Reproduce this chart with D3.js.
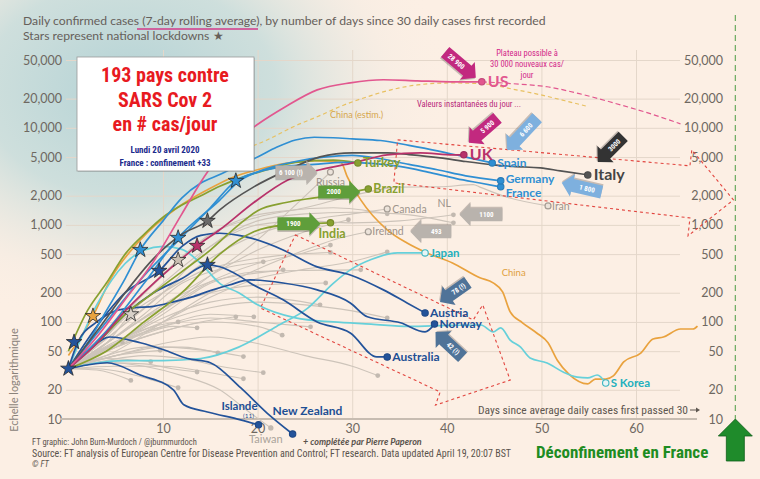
<!DOCTYPE html>
<html><head><meta charset="utf-8">
<script src="https://cdn.jsdelivr.net/npm/d3@7"></script>
<style>body{margin:0;background:#fcefe4}svg{display:block}</style>
</head><body><svg id="c" width="760" height="479"></svg>
<script>
// ---------- DATA (day since 30 cases, daily cases 7-day avg) ----------
const yTicks=[10,20,50,100,200,500,1000,2000,5000,10000,20000,50000];
const xTicks=[10,20,30,40,50,60];

const US=[[0,33],[3,70],[6,170],[9,420],[12,1300],[14.7,3500],[17,6500],[19.9,10700],[22.9,16400],[26.3,24600],[29.8,29100],[33.3,31300],[36.9,30500],[40.4,29800],[43.7,29800]];
const usProjection=[[43.7,29800],[47,28500],[50.6,26500],[54,22500],[57.6,18100],[61,14500],[64.7,11000]];
const chinaEstim=[[15,3700],[18,5600],[21,7500],[24,10500],[26.3,13000],[29,17000],[31.6,20900],[34,24500],[36.9,27700],[40.4,29000],[43.9,28400],[47,25000],[49.9,21900],[52.5,19000],[54.9,16600]];
const UK=[[0,33],[3,60],[6,130],[9,250],[12,450],[13.6,608],[16,890],[19.6,1700],[23.2,2900],[26.6,3700],[30.1,4350],[33.7,5270],[37.2,5520],[40.7,5270],[41.8,5270]];
const Spain=[[0,33],[2,60],[4,130],[6,280],[7.6,552],[10,1100],[12,1900],[14,2700],[16,3300],[18,4100],[20,5000],[22,6300],[24,7500],[26,8000],[28,7900],[30,7700],[33,7400],[36,6600],[39,5800],[42,5000],[44.8,4350]];
const Italy=[[0,33],[3,80],[6,200],[9,450],[12,800],[14.7,1100],[16,1430],[19.6,2465],[23.2,3690],[26.6,5020],[30,5520],[33.7,5520],[36,5300],[39.3,4910],[42,4500],[44.9,4160],[47,4000],[49.9,3870],[52,3600],[54.9,3275]];
const Germany=[[0,33],[4,80],[8,250],[11.6,735],[16,1800],[18,2800],[21,3800],[24,4500],[27,5000],[30,5200],[33,4800],[36,4200],[39,3700],[42,3200],[45.7,2845]];
const France=[[0,33],[4,100],[8,300],[12,750],[15,1500],[17.7,2840],[20,3500],[23,4000],[26,4200],[29,4400],[32,4300],[35,4000],[38,3500],[41,3000],[43.5,2700],[45.7,2465]];
const Turkey=[[0,50],[2,130],[4,250],[6,500],[8,800],[10,1200],[12,1600],[14,2000],[16,2500],[18,3000],[21,3700],[24,4400],[28,4650],[30.6,4350]];
const Brazil=[[0,33],[3,60],[6,120],[9,200],[12,330],[15,550],[18,1000],[20,1400],[23,1700],[26,1900],[29,2100],[31.7,2350]];
const India=[[0,33],[4,50],[8,100],[12,200],[16,500],[19.6,850],[23,1000],[27.7,1050]];
const China=[[0,45],[2.6,115],[4.4,270],[7.6,700],[11.5,1500],[14.7,2300],[17.4,3100],[20,3700],[23,4300],[26,4600],[28.8,4400],[29.5,3100],[30.9,1810],[33.7,890],[35.8,650],[37.9,514],[40.6,405],[43.5,285],[44.9,253],[45.9,204],[46.7,127],[48,98],[49.5,77],[50.7,61],[51.7,40],[52.9,29],[54.9,23],[55.7,25.8],[56.8,25.8],[57.6,27.8],[58.7,38.7],[60.5,47.8],[61.8,66.8],[62.9,70],[64.7,84.6],[66,84.6],[66.5,90.8]];
const Japan=[[0,33],[3,38],[6,40],[10,40],[14,42],[18,55],[22,90],[25.3,139],[28,250],[29.8,344],[32,440],[34.8,514],[37.7,514]];
const SKorea=[[0,33],[3,150],[6,400],[8,550],[10,600],[12,560],[14,400],[16,250],[18,200],[20,150],[24,110],[28,100],[32,95],[36,90],[40,92],[43.6,93],[44.9,79],[45.7,87],[46.7,65],[47.8,55],[48.8,42.5],[50.6,37.8],[52.3,30.5],[53.8,27],[54.9,26.5],[55.9,28.4],[56.8,23.5]];
const Austria=[[0,33],[3,90],[6,200],[9.6,336],[12,600],[14,780],[16,820],[18,780],[19.2,735],[22.7,552],[26.3,369],[29.8,305],[33.3,214],[35.8,157],[37.7,124]];
const Norway=[[0,33],[1,62],[3,100],[5,130],[7,140],[9,145],[11,160],[13,180],[15,210],[17,240],[19.2,271],[22.7,252],[26.3,214],[29.8,157],[31.6,113],[35.1,98],[37.7,79],[38.7,95]];
const Australia=[[0,33],[3,60],[6,120],[9,200],[12,280],[14.7,387],[16,370],[18,300],[19.2,252],[22.7,169],[26.3,100],[29.8,77],[32.6,43.6],[33.7,43.6]];
const Iceland=[[0,33],[2,36],[4.1,38],[7.6,28.4],[11.1,20],[12.2,14],[14.7,11.8],[18.2,9.8],[20.1,8.7]];
const NewZealand=[[0,33],[2,50],[4.4,70],[7.6,61],[10,52],[12.6,42],[15,38],[18.2,21],[21,11.5],[23.7,7]];
const Russia=[[0,33],[5,60],[10,130],[15,300],[20,700],[24,1600],[27.7,3500]];
const Canada=[[0,33],[5,80],[10,200],[15,450],[20,800],[25,1100],[30,1300],[33.7,1460]];
const NL=[[0,33],[5,90],[10,250],[15,600],[20,1000],[25,1100],[30,1050],[35,1100],[40.7,1270]];
const Ireland=[[0,33],[5,50],[10,100],[15,200],[20,350],[25,550],[28,700],[31.7,850]];
const Iran=[[0,33],[5,100],[10,300],[15,800],[20,1200],[25,1500],[30,2000],[35,2450],[39.3,2470],[42.8,2600],[43.5,2450],[46.2,1950],[50.7,1570]];
const Taiwan=[[0,33],[4,38],[8,35],[12,28],[16,20],[19,12],[21.4,8.1]];
const otherCountries=[
 [[0,33],[5,80],[10,200],[15,600],[20,1100],[25,1300],[30,1350],[35,1300],[40.7,1050]],
 [[0,33],[5,70],[10,150],[15,300],[20,550],[25,850],[29.6,1130]],
 [[0,33],[5,60],[10,130],[15,260],[20,400],[25,520],[27.7,620]],
 [[0,33],[5,55],[10,100],[15,180],[20,280],[25,350],[30,420],[33.7,527]],
 [[0,33],[5,60],[10,120],[15,250],[20,330],[25,340],[30.9,344]],
 [[0,33],[4,60],[8,120],[12,250],[16,350],[20.6,416]],
 [[0,33],[5,70],[10,150],[15,260],[20,320],[22.7,344]],
 [[0,33],[5,60],[10,110],[15,160],[20,180],[26.6,150]],
 [[0,33],[5,55],[10,80],[15,100],[20,90],[22.6,73]],
 [[0,33],[5,60],[10,90],[15,110],[20,100],[25.6,89]],
 [[0,33],[5,60],[10,100],[15,140],[20,160],[25,150],[30,130],[33.7,110]],
 [[0,33],[4,40],[8,45],[12,42],[16,35],[20.6,30]],
 [[0,33],[5,45],[10,60],[15,70],[20,60],[25,45],[30,35],[32.7,28]],
 [[0,33],[5,70],[10,140],[15,200],[20,240],[27.2,252]],
 [[0,33],[3,50],[6,70],[9,90],[11.6,100]],
 [[0,33],[4,55],[8,75],[11,90],[13.6,87]],
 [[0,33],[5,55],[10,80],[14,100],[17.7,113]],
 [[0,33],[5,60],[10,90],[15,120],[19.6,113]],
 [[0,33],[4,45],[8,55],[12,55],[15.8,48]],
 [[0,33],[5,45],[10,55],[15,50],[18.5,44]],
 [[0,33],[4,38],[8,37],[11,33],[13.6,30.5]],
 [[0,33],[5,35],[10,35],[15,30],[18.5,26]],
 [[0,33],[3,33],[6,30],[9,25],[11.6,21]],
 [[0,33],[3,32],[6.6,25]],
 [[0,33],[3,45],[5.7,62]],
 [[0,33],[4,42],[8.7,39]],
 [[0,33],[5,45],[9.7,51]],
 [[0,33],[4,60],[6.6,120],[10,200],[14,330],[18,420],[22,480],[27.7,520]],
 [[0,33],[4,70],[8,200],[11.6,435],[15,800],[19,1200],[23,1400],[28,1500],[33.7,1300]]
];
// lockdown stars: [day, cases, group]
const lockdownStars=[[0,33,'navy'],[0.6,62,'navy'],[2.6,115,'orange'],[6.6,120,'grey'],[7.6,552,'blue'],[9.6,336,'navy'],[11.6,735,'blue'],[11.6,435,'beige'],[13.6,608,'crimson'],[14.7,1100,'dark'],[14.7,387,'navy'],[17.7,2840,'blue']];
// red dashed hand-drawn arrows (day, cases)
const redArrowA=[[34.8,7520],[65.7,4060],[65.9,5930],[70.3,1810],[65.5,771],[65.7,1180],[34.4,2710]];
const redArrowB=[[24,789],[42.8,105],[43.8,150],[46.7,25.2],[38.8,13.9],[39.3,19],[20.3,139]];
const deconfinementDay=70.5;

// ---------- SETUP ----------
const W=760,H=479;
const x=d3.scaleLinear().domain([0,66.5]).range([68.4,697.5]);
const y=d3.scaleLog().domain([10,50000]).range([419,60]);
const svg=d3.select('#c');
const NARROW="'Liberation Sans Narrow','Arial Narrow','Roboto Condensed',sans-serif";
const SANS="Lato,'Open Sans',sans-serif";
const last=a=>a[a.length-1];
const col={navy:'#23539a',blue:'#2f8fd3',pink:'#e2578f',crimson:'#b8326a',dark:'#545454',olive:'#88a030',orange:'#e9a23e',teal:'#66d0da',grey:'#cdc4ba'};

const defs=svg.append('defs');
const rg=defs.append('radialGradient').attr('id','haze').attr('gradientUnits','userSpaceOnUse')
 .attr('cx',130).attr('cy',90).attr('r',240).attr('gradientTransform','translate(130,90) scale(1.35,1) translate(-130,-90)');
[[0,'#b3d2d5',1],[0.45,'#c6dcdb',0.85],[0.8,'#f2ebe2',0.4],[1,'#fcefe4',0]].forEach(s=>rg.append('stop').attr('offset',s[0]).attr('stop-color',s[1]).attr('stop-opacity',s[2]));
svg.append('rect').attr('width',W).attr('height',H).attr('fill','#fcefe4');
svg.append('rect').attr('width',W).attr('height',H).attr('fill','url(#haze)');

// grid
svg.append('g').attr('transform','translate(66,0)')
 .call(d3.axisLeft(y).tickValues(yTicks).tickSize(-614).tickFormat(''))
 .call(g=>{g.select('.domain').remove();g.selectAll('line').attr('stroke','#e4d7ca');});
svg.append('g').attr('transform','translate(0,50)')
 .call(d3.axisBottom(x).tickValues(xTicks).tickSize(369).tickFormat(''))
 .call(g=>{g.select('.domain').remove();g.selectAll('line').attr('stroke','#e4d7ca');});

// axes labels
svg.append('g').attr('transform','translate(62,0)')
 .call(d3.axisLeft(y).tickValues(yTicks).tickSize(0).tickPadding(0).tickFormat(d3.format(',')))
 .call(g=>{g.select('.domain').remove();g.selectAll('text').attr('font-family',SANS).attr('font-size',12.5).attr('fill','#6e6861');});
svg.append('g').attr('transform','translate(723,0)')
 .call(d3.axisRight(y).tickValues(yTicks).tickSize(0).tickPadding(0).tickFormat(d3.format(',')))
 .call(g=>{g.select('.domain').remove();g.selectAll('text').attr('text-anchor','end').attr('x',0).attr('font-family',SANS).attr('font-size',12.5).attr('fill','#6e6861');});
svg.append('g').attr('transform',`translate(0,${y(10)})`)
 .call(d3.axisBottom(x).tickValues(xTicks).tickSize(0).tickPadding(5))
 .call(g=>{g.select('.domain').remove();g.selectAll('text').attr('font-family',SANS).attr('font-size',12.5).attr('fill','#6e6861');});
svg.append('line').attr('x1',60).attr('x2',697).attr('y1',y(10)).attr('y2',y(10)).attr('stroke','#c7bcb1').attr('stroke-width',2);

const line=d3.line().x(d=>x(d[0])).y(d=>y(d[1])).curve(d3.curveMonotoneX);
const plot=svg.append('g');

// grey lines
const greySeries=[Russia,Canada,NL,Ireland,Iran,Taiwan,...otherCountries];
greySeries.forEach(s=>{
 plot.append('path').attr('d',line(s)).attr('fill','none').attr('stroke',col.grey).attr('stroke-width',1.1);
});
greySeries.forEach(s=>{
 const e=last(s);
 const ring=[Russia,Canada,Ireland,Iran].includes(s);
 plot.append('circle').attr('cx',x(e[0])).attr('cy',y(e[1])).attr('r',ring?3:2.4)
  .attr('fill',ring?'#ece3da':'#c2b9b0').attr('stroke',ring?'#a59d95':'none').attr('stroke-width',1.2);
});

// projections
plot.append('path').attr('d',line(chinaEstim)).attr('fill','none').attr('stroke','#e8c060').attr('stroke-width',1.2).attr('stroke-dasharray','4,3');
plot.append('path').attr('d',line(usProjection)).attr('fill','none').attr('stroke','#e2578f').attr('stroke-width',1.2).attr('stroke-dasharray','5,3');

const main=[
 {n:'China',d:China,c:col.orange},{n:'SKorea',d:SKorea,c:col.teal},{n:'Japan',d:Japan,c:col.teal},
 {n:'Iceland',d:Iceland,c:col.navy},{n:'NZ',d:NewZealand,c:col.navy},{n:'Australia',d:Australia,c:col.navy},
 {n:'Norway',d:Norway,c:col.navy},{n:'Austria',d:Austria,c:col.navy},
 {n:'India',d:India,c:col.olive},{n:'Brazil',d:Brazil,c:col.olive},{n:'Turkey',d:Turkey,c:col.olive},
 {n:'France',d:France,c:col.blue},{n:'Germany',d:Germany,c:col.blue},{n:'Spain',d:Spain,c:col.blue},
 {n:'Italy',d:Italy,c:col.dark},{n:'UK',d:UK,c:col.crimson},{n:'US',d:US,c:col.pink}
];
main.forEach(s=>plot.append('path').attr('d',line(s.d)).attr('fill','none').attr('stroke',s.c).attr('stroke-width',1.7).attr('stroke-linejoin','round'));

// red dashed arrows
const poly=d3.line().x(d=>x(d[0])).y(d=>y(d[1]));
[redArrowA,redArrowB].forEach(a=>plot.append('path').attr('d',poly(a)+'Z').attr('fill','none').attr('stroke','#e2453f').attr('stroke-width',1.1).attr('stroke-dasharray','3,3'));

// end dots
const ringSet=['Japan','SKorea'];
main.filter(s=>s.n!=='China').forEach(s=>{
 const e=last(s.d);
 const ring=ringSet.includes(s.n);
 plot.append('circle').attr('cx',x(e[0])).attr('cy',y(e[1])).attr('r',3.2)
  .attr('fill',ring?'#e7f5f5':s.c).attr('stroke',ring?'#3cb6c2':d3.color(s.c).darker(0.4)).attr('stroke-width',1.1);
});
plot.append('circle').attr('cx',x(last(Taiwan)[0])).attr('cy',y(last(Taiwan)[1])).attr('r',2.6).attr('fill','#c2b9b0');

// labels
function lab(pt,text,o){
 const t=svg.append('text').attr('x',x(pt[0])+(o.dx||0)).attr('y',y(pt[1])+(o.dy||0)).attr('dy','0.35em')
  .attr('font-family',o.ff||SANS).attr('font-weight',o.fw||'bold').attr('font-size',o.fs||12)
  .attr('fill',o.c).attr('text-anchor',o.a||'start').text(text);
 return t;
}
lab(last(US),'US',{dx:6,fs:16,c:'#e2578f'});
lab(last(UK),'UK',{dx:6,fs:16,c:'#b8326a'});
lab(last(Spain),'Spain',{dx:5,fs:12,c:'#2f8fd3'});
lab(last(Italy),'Italy',{dx:6,fs:16,c:'#444'});
lab(last(Germany),'Germany',{dx:5,dy:-2,fs:12,c:'#2f8fd3'});
lab(last(France),'France',{dx:5,dy:5.5,fs:12,c:'#2f8fd3'});
lab(last(Turkey),'Turkey',{dx:5,fs:12.5,c:'#88a030'});
lab(last(Brazil),'Brazil',{dx:5,fs:12.5,c:'#88a030'});
lab(last(India),'India',{dx:-12,dy:11,fs:12.5,c:'#88a030'});
lab(last(Russia),'Russia',{dx:0,dy:10,fs:10.5,c:'#9c948c',fw:'normal',a:'middle'});
lab(last(Canada),'Canada',{dx:5,fs:10.5,c:'#9c948c',fw:'normal'});
lab(last(NL),'NL',{dx:-16,dy:-11,fs:10.5,c:'#9c948c',fw:'normal'});
lab(last(Ireland),'Ireland',{dx:4,fs:10.5,c:'#9c948c',fw:'normal'});
lab(last(Iran),'Iran',{dx:4,fs:10.5,c:'#9c948c',fw:'normal'});
lab(last(Japan),'Japan',{dx:5,fs:11.5,c:'#22b0bd'});
lab(last(SKorea),'S Korea',{dx:5,fs:11.5,c:'#22b0bd'});
lab(last(Austria),'Austria',{dx:5,fs:12,c:'#1e4f95'});
lab(last(Norway),'Norway',{dx:5,fs:12,c:'#1e4f95'});
lab(last(Australia),'Australia',{dx:5,fs:12,c:'#1e4f95'});
lab(last(NewZealand),'New Zealand',{dx:-20,dy:-23,fs:12,c:'#1e4f95'});
lab(last(Iceland),'Islande',{dx:-1,dy:-19,fs:11.5,c:'#1e4f95',a:'end'});
lab(last(Iceland),'(11)',{dx:-10,dy:-9,fs:6.5,c:'#1e4f95',a:'middle',fw:'normal'});
lab(last(Taiwan),'Taiwan',{dx:-5,dy:11,fs:11,c:'#aaa39b',fw:'normal',a:'middle'});
lab([45.8,320],'China',{fs:9.5,c:'#e0a040',fw:'normal'});
lab([27.65,13600],'China (estim.)',{fs:9,c:'#d6a64c',fw:'normal'});

// stars
const starCol={navy:'#23539a',blue:'#2f8fd3',orange:'#e9a23e',grey:'#d8d0c8',beige:'#cbbfb2',crimson:'#b8326a',dark:'#6a6a6a'};
lockdownStars.forEach(s=>svg.append('path').attr('d',d3.symbol(d3.symbolStar).size(75)())
 .attr('transform',`translate(${x(s[0])},${y(s[1])})`).attr('fill',starCol[s[2]]).attr('stroke','#2a2a2a').attr('stroke-width',0.8));

// block arrows
const ends={US,UK,Spain,Italy,France,NL,Ireland,Russia,Brazil,India,Austria,Norway};
const arrows=[
 {to:'US',dx:-6,dy:-4,ang:40,len:40,c:'#c2297f',t:'28 900'},
 {to:'UK',dx:5,dy:-12,ang:139,len:38,c:'#c2297f',t:'5 900'},
 {to:'Spain',dx:15,dy:-13,ang:133,len:44,c:'#7eb0de',t:'6 600'},
 {to:'Italy',dx:10,dy:-13,ang:135,len:36,c:'#333333',t:'3000'},
 {to:'France',dx:61,dy:-4,ang:193,len:41,c:'#7eb0de',t:'1 800'},
 {to:'NL',dx:6,dy:0,ang:180,len:43,c:'#b9b3ad',t:'1100'},
 {to:'Ireland',dx:42,dy:0,ang:180,len:41,c:'#b9b3ad',t:'493'},
 {to:'Russia',dx:-13,dy:0,ang:0,len:42,c:'#b9b3ad',t:'6 100 (!)'},
 {to:'Brazil',dx:-8,dy:3,ang:0,len:42,c:'#5f9e3b',t:'2000'},
 {to:'India',dx:-10,dy:1,ang:0,len:43,c:'#5f9e3b',t:'1900'},
 {to:'Austria',dx:15,dy:-11,ang:145,len:34,c:'#4f7398',t:'78 (!)'},
 {to:'Norway',dx:1,dy:8,ang:223,len:37,c:'#4f7398',t:'42 (!)'}
];
const ann=svg.append('g');
arrows.forEach(a=>{
 const e=last(ends[a.to]);
 const tx=x(e[0])+a.dx, ty=y(e[1])+a.dy;
 const g=ann.append('g').attr('transform',`translate(${tx},${ty}) rotate(${a.ang})`);
 const hl=11,hw=11.5,bw=6.5,L=a.len;
 const pts=[[0,0],[-hl,-hw],[-hl,-bw],[-L,-bw],[-L,bw],[-hl,bw],[-hl,hw]];
 g.append('polygon').attr('points',pts.map(p=>[p[0],p[1]+1.6].join(',')).join(' ')).attr('fill','rgba(40,30,30,0.25)');
 g.append('polygon').attr('points',pts.join(' ')).attr('fill',a.c);
 const cx=-(L+hl)/2;
 const flip=Math.cos(a.ang*Math.PI/180)<0;
 g.append('text').attr('x',cx).attr('y',0).attr('dy','0.35em').attr('text-anchor','middle')
  .attr('transform',flip?`rotate(180 ${cx} 0)`:null)
  .attr('font-family',NARROW).attr('font-weight','bold').attr('font-size',7).attr('fill','#fff').text(a.t);
});

// deconfinement marker
const xd=x(deconfinementDay);
svg.append('line').attr('x1',xd).attr('x2',xd).attr('y1',15).attr('y2',y(10)).attr('stroke','#6aaa5e').attr('stroke-width',1.2).attr('stroke-dasharray','6,4');
svg.append('polygon').attr('points',[[xd,y(10)],[xd+17,y(10)+17],[xd+9,y(10)+17],[xd+9,y(10)+42],[xd-9,y(10)+42],[xd-9,y(10)+17],[xd-17,y(10)+17]].join(' '))
 .attr('fill','#1f8b2b').attr('stroke','#0e5e18').attr('stroke-width',0.8);
svg.append('text').attr('x',xd-27).attr('y',452).attr('dy','0.35em').attr('text-anchor','end')
 .attr('font-family',NARROW).attr('font-weight','bold').attr('font-size',17).attr('fill','#1e8c22').text('Déconfinement en France');

// x axis caption
svg.append('text').attr('x',688).attr('y',410).attr('dy','0.35em').attr('text-anchor','end')
 .attr('font-family',NARROW).attr('font-size',11.5).attr('fill','#5e5750').text('Days since average daily cases first passed 30');
svg.append('line').attr('x1',690).attr('x2',698).attr('y1',410).attr('y2',410).attr('stroke','#5e5750');
svg.append('path').attr('d','M696,407.5 L700,410 L696,412.5Z').attr('fill','#5e5750');

// y axis caption
svg.append('text').attr('transform','translate(18,380) rotate(-90)').attr('text-anchor','middle')
 .attr('font-family',SANS).attr('font-size',11).attr('fill','#8a827a').text('Echelle logarithmique');

// magenta notes
[['Plateau possible à',53],['30 000 nouveaux cas/',64],['jour',75]].forEach(r=>
 svg.append('text').attr('x',527).attr('y',r[1]).attr('dy','0.35em').attr('text-anchor','middle')
 .attr('font-family',NARROW).attr('font-size',8.5).attr('fill','#d2288a').text(r[0]));
svg.append('text').attr('x',469).attr('y',104).attr('dy','0.35em').attr('text-anchor','middle')
 .attr('font-family',NARROW).attr('font-size',8.5).attr('fill','#b8287a').text('Valeurs instantanées du jour ...');

// header
svg.append('text').attr('x',23).attr('y',25).attr('font-family',SANS).attr('font-size',12.2).attr('fill','#66605a')
 .text('Daily confirmed cases (7-day rolling average), by number of days since 30 daily cases first recorded');
svg.append('text').attr('x',23).attr('y',40).attr('font-family',SANS).attr('font-size',12.2).attr('fill','#66605a').text('Stars represent national lockdowns \u2605');
svg.append('line').attr('x1',137).attr('x2',258).attr('y1',29).attr('y2',29).attr('stroke','#d23a8a').attr('stroke-width',1.3);

// title box
svg.append('rect').attr('x',78).attr('y',58).attr('width',177).attr('height',114).attr('fill','rgba(0,0,0,0.12)');
svg.append('rect').attr('x',77).attr('y',57).attr('width',177).attr('height',114).attr('fill','#fff').attr('stroke','#9a9a9a').attr('stroke-width',0.8);
[['193 pays contre',75],['SARS Cov 2',100],['en # cas/jour',124]].forEach(r=>
 svg.append('text').attr('x',165).attr('y',r[1]).attr('dy','0.35em').attr('text-anchor','middle')
 .attr('font-family',NARROW).attr('font-weight','bold').attr('font-size',20).attr('fill','#e81a1f').text(r[0]));
[['Lundi 20 avril 2020',150],['France : confinement +33',163]].forEach(r=>
 svg.append('text').attr('x',165).attr('y',r[1]).attr('dy','0.35em').attr('text-anchor','middle')
 .attr('font-family',NARROW).attr('font-weight','bold').attr('font-size',9).attr('fill','#1c2b8c').text(r[0]));

// footer
svg.append('text').attr('x',32).attr('y',442).attr('dy','0.35em').attr('font-family',NARROW).attr('font-size',8.5).attr('fill','#5a534c').text('FT graphic: John Burn-Murdoch / @jburnmurdoch');
svg.append('text').attr('x',303).attr('y',442).attr('dy','0.35em').attr('font-family',SANS).attr('font-style','italic').attr('font-weight','bold').attr('font-size',9).attr('fill','#5a534c').text('+ complétée par Pierre Paperon');
svg.append('text').attr('x',32).attr('y',453).attr('dy','0.35em').attr('font-family',NARROW).attr('font-size',10).attr('fill','#5a534c').text('Source: FT analysis of European Centre for Disease Prevention and Control; FT research. Data updated April 19, 20:07 BST');
svg.append('text').attr('x',32).attr('y',464).attr('dy','0.35em').attr('font-family',NARROW).attr('font-style','italic').attr('font-size',8.5).attr('fill','#5a534c').text('© FT');
</script></body></html>
